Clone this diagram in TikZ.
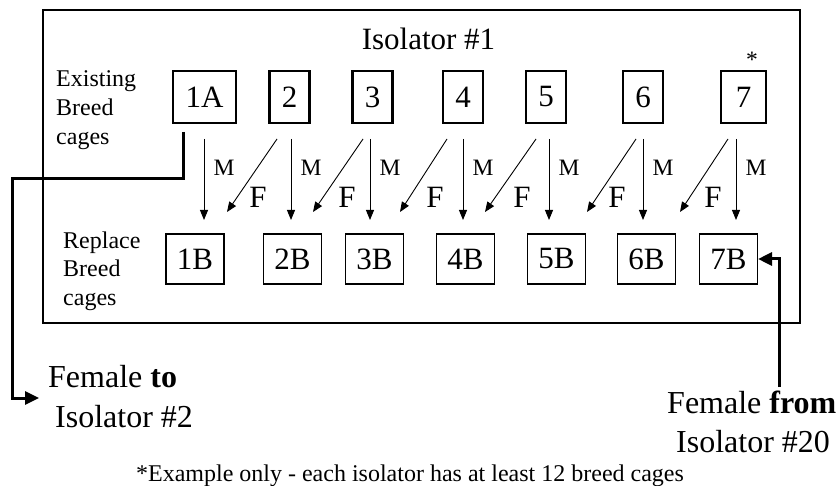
\documentclass[tikz,border=0pt]{standalone}
\usepackage{fontspec}
\setmainfont{Liberation Serif}
\usetikzlibrary{arrows.meta}
\begin{document}
\begin{tikzpicture}[x=1pt,y=-1pt,
  big/.style={font=\fontsize{31}{36}\selectfont},
  bigger/.style={font=\fontsize{32}{38}\selectfont},
  small/.style={font=\fontsize{23.5}{29}\selectfont},
  topcage/.style={draw, line width=2.2pt, minimum width=40pt, minimum height=52pt, inner sep=0pt, big},
  newcage/.style={draw, line width=1.1pt, minimum width=58pt, minimum height=50pt, inner sep=0pt, big},
  marrow/.style={line width=0.9pt, -{Triangle[length=10pt,width=8pt]}},
  transfer/.style={line width=3pt, -{Triangle[length=14pt,width=13pt]}},
  txt/.style={inner sep=0pt, anchor=base west}]
\useasboundingbox (0,0) rectangle (840,486);

% isolator outline and title
\node[draw, line width=1.1pt, minimum width=757pt, minimum height=313pt, inner sep=0pt] (iso) at (421.5,166.5) {};
\node[big, inner sep=0pt, anchor=base] (title) at (428.5,50) {Isolator \#1};

% row labels (base anchor sits on the last line)
\node[small, txt, align=left, font=\fontsize{24}{29}\selectfont] (exist) at (56,145) {Existing\\Breed\\cages};
\node[small, txt, align=left, font=\fontsize{24}{28.5}\selectfont] (repl) at (63,305) {Replace\\Breed\\cages};

% existing breed cages
\node[topcage, minimum width=63pt] (c1) at (204.5,97) {1A};
\node[topcage] (c2) at (289.5,97) {2};
\node[topcage] (c3) at (372.5,97) {3};
\node[topcage] (c4) at (463,97) {4};
\node[topcage] (c5) at (546,97) {5};
\node[topcage] (c6) at (643,97) {6};
\node[topcage, minimum width=45pt] (c7) at (743.5,97) {7};
\node[small, inner sep=0pt] (star) at (752,60) {*};

% replacement breed cages
\node[newcage] (b1) at (195,259) {1B};
\node[newcage] (b2) at (292.5,259) {2B};
\node[newcage] (b3) at (374.5,259) {3B};
\node[newcage] (b4) at (465.5,259) {4B};
\node[newcage] (b5) at (556.5,259) {5B};
\node[newcage] (b6) at (646.5,259) {6B};
\node[newcage] (b7) at (728.5,259) {7B};

% males stay: vertical arrows labelled M
\foreach \i/\x in {1/204,2/291,3/370,4/463,5/549,6/643,7/736}{
  \coordinate (ms\i) at (\x,139);
  \coordinate (me\i) at (\x,220);
  \draw[marrow] (ms\i) -- (me\i);
  \node[small, inner sep=0pt] (ml\i) at (\x+20,168) {M};
}

% females shift one cage down the line: diagonal arrows labelled F
\foreach \i/\xs/\xe/\xl in {1/277/227/258,2/363/313/347,3/447/400/435,4/536/485/522,5/636/587/617,6/728/680/713}{
  \coordinate (fs\i) at (\xs,139);
  \coordinate (fe\i) at (\xe,212);
  \draw[marrow] (fs\i) -- (fe\i);
  \node[big, inner sep=0pt] (fl\i) at (\xl,197) {F};
}

% female leaving to isolator #2
\coordinate (outs) at (183,132);
\coordinate (outt) at (39,398);
\draw[transfer] (outs) -- (183,179) -- (12,179) -- (12,398) -- (outt);
\node[bigger, txt] (to1) at (48,387) {Female \textbf{to}};
\node[bigger, txt] (to2) at (55,427) {Isolator \#2};

% female arriving from isolator #20
\coordinate (ins) at (779,387);
\draw[transfer] (ins) -- (779,259) -- (b7.east);
\node[bigger, txt] (from1) at (667,413) {Female \textbf{from}};
\node[bigger, txt] (from2) at (676,452) {Isolator \#20};

% footnote
\node[inner sep=0pt, anchor=base, font=\fontsize{24}{29}\selectfont] (note) at (410,481) {*Example only - each isolator has at least 12 breed cages};
\end{tikzpicture}
\end{document}
